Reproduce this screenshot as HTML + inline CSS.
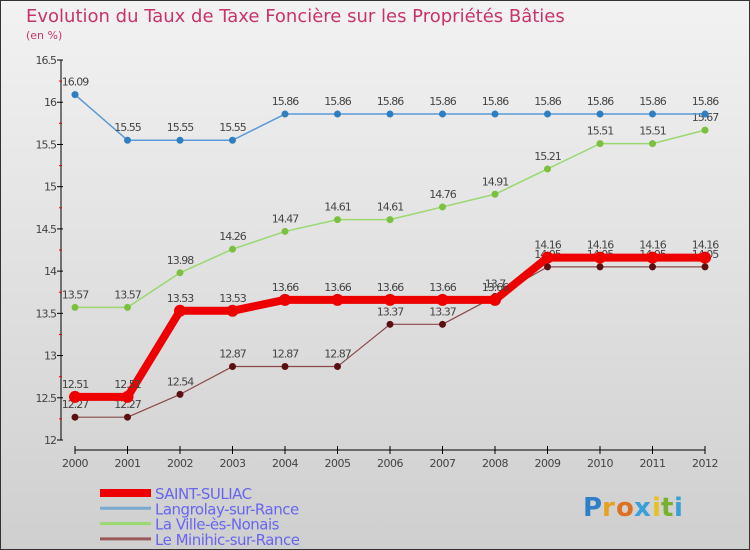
<!DOCTYPE html>
<html><head><meta charset="utf-8"><style>
body{margin:0;}
#c{width:750px;height:550px;position:relative;overflow:hidden;}
text{font-family:"DejaVu Sans","Liberation Sans",sans-serif;}
</style></head><body>
<div id="c">
<svg id="s" width="750" height="550" xmlns="http://www.w3.org/2000/svg">
<defs><linearGradient id="bg" x1="0" y1="0" x2="0" y2="1"><stop offset="0" stop-color="#f2f2f2"/><stop offset="1" stop-color="#cfcfcf"/></linearGradient></defs>
<rect x="0.5" y="0.5" width="749" height="549" fill="url(#bg)" stroke="#333"/>
<text x="26" y="22" font-size="18" fill="#c8336e">Evolution du Taux de Taxe Foncière sur les Propriétés Bâties</text>
<text x="26" y="39" font-size="11" fill="#c8336e">(en %)</text>
<g id="axes"></g><g id="series"></g>
<g id="legend"></g>
<g font-size="26" font-weight="bold">
<text x="583" y="516" fill="#2f7fc8">P</text><text x="602" y="516" fill="#e8a020">r</text><text x="616" y="516" fill="#e07020">o</text><text x="634" y="516" fill="#3aa0d8">x</text><text x="652" y="516" fill="#e8c020">i</text><text x="661" y="516" fill="#7ab030">t</text><text x="674" y="516" fill="#3aa0d8">i</text>
</g>
</svg></div>
<script>
const years=[2000,2001,2002,2003,2004,2005,2006,2007,2008,2009,2010,2011,2012];
const yTicks=[12,12.5,13,13.5,14,14.5,15,15.5,16,16.5];
const saint=[12.51,12.51,13.53,13.53,13.66,13.66,13.66,13.66,13.66,14.16,14.16,14.16,14.16];
const langrolay=[16.09,15.55,15.55,15.55,15.86,15.86,15.86,15.86,15.86,15.86,15.86,15.86,15.86];
const ville=[13.57,13.57,13.98,14.26,14.47,14.61,14.61,14.76,14.91,15.21,15.51,15.51,15.67];
const minihic=[12.27,12.27,12.54,12.87,12.87,12.87,13.37,13.37,13.7,14.05,14.05,14.05,14.05];
const names=["SAINT-SULIAC","Langrolay-sur-Rance","La Ville-ès-Nonais","Le Minihic-sur-Rance"];
const NS="http://www.w3.org/2000/svg";
const X=i=>75+i*52.5, Y=v=>440-(v-12)*84.44;
function mk(p,t,a){const e=document.createElementNS(NS,t);for(const k in a)e.setAttribute(k,a[k]);p.appendChild(e);return e;}
const ax=document.getElementById('axes');
let l=mk(ax,'line',{x1:61,y1:60,x2:61,y2:440,stroke:'#000'});

l=mk(ax,'line',{x1:75,y1:450,x2:705,y2:450,stroke:'#000'});

yTicks.forEach((v,i)=>{const y=Y(v);mk(ax,'line',{x1:57,y1:y,x2:63,y2:y,stroke:'#000'});
 if(i<yTicks.length-1)mk(ax,'line',{x1:59,y1:Y(v+0.25),x2:62,y2:Y(v+0.25),stroke:'#e00'});
 const t=mk(ax,'text',{x:56,y:y+4,'font-size':11,fill:'#444','text-anchor':'end','letter-spacing':'-1'});t.textContent=String(v);
 });
years.forEach((yr,i)=>{const x=X(i);mk(ax,'line',{x1:x,y1:446,x2:x,y2:454,stroke:'#000'});
 const t=mk(ax,'text',{x:x,y:467,'font-size':11,fill:'#444','text-anchor':'middle','letter-spacing':'-0.5'});t.textContent=yr;
 });
const sg=document.getElementById('series');
function draw(data,color,w,r,dot,name){const g=mk(sg,'g',{});
 
 mk(g,'polyline',{points:data.map((v,i)=>X(i)+','+Y(v)).join(' '),fill:'none',stroke:color,'stroke-width':w,'stroke-linejoin':'round'});
 data.forEach((v,i)=>{const c=mk(g,'circle',{cx:X(i),cy:Y(v),r:r,fill:dot});
  
  const t=mk(g,'text',{x:X(i),y:Y(v)-9,'font-size':11,fill:'#444','text-anchor':'middle','letter-spacing':'-1'});t.textContent=String(v);});}
draw(minihic,'#8b4a4a',1.2,3.5,'#5a1010','series-le-minihic');
draw(ville,'#9ad870',1.5,3.5,'#7cc040','series-la-ville');
draw(langrolay,'#5a9ad8',1.5,3.5,'#2f7fc0','series-langrolay');
draw(saint,'#ee0000',8,6,'#ee0000','series-saint-suliac');
const lg=document.getElementById('legend');
const cols=['#ee0000','#7aaad0','#9ad870','#9a5a5a'],ws=[8,3,3,3];
names.forEach((n,i)=>{const y=493+i*15.3;const g=mk(lg,'g',{});
 
 mk(g,'line',{x1:100,y1:y,x2:151,y2:y,stroke:cols[i],'stroke-width':ws[i]});
 const t=mk(g,'text',{x:155,y:y+6,'font-size':15,fill:'#6666ee','letter-spacing':'-0.5'});t.textContent=n;});
</script></body></html>
